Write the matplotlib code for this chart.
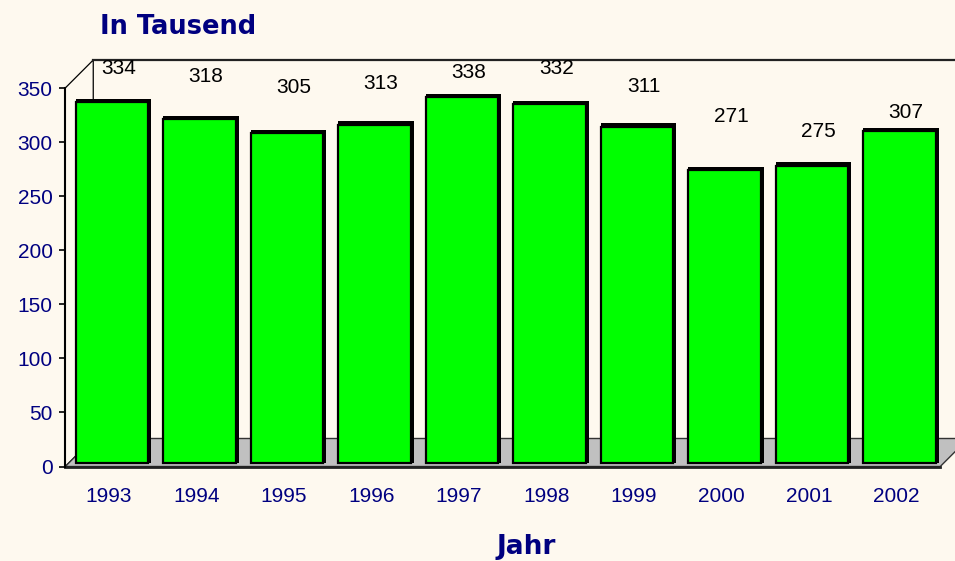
import matplotlib
matplotlib.use("Agg")
import matplotlib.pyplot as plt
from matplotlib.patches import Polygon
import numpy as np

years = ["1993", "1994", "1995", "1996", "1997", "1998", "1999", "2000", "2001", "2002"]
values = [334, 318, 305, 313, 338, 332, 311, 271, 275, 307]
label_heights = [367.6, 360.2, 350.9, 353.7, 363.9, 368.0, 351.4, 324.1, 310.2, 327.8]
yticks = [0, 50, 100, 150, 200, 250, 300, 350]
title = "In Tausend"
xlabel = "Jahr"

BG = "#FEF9EF"
GREEN = "#00FF00"
NAVY = "#000080"
FLOOR = "#C0C0C0"

W, H = 955, 561
fig = plt.figure(figsize=(W / 100, H / 100), dpi=100, facecolor=BG)
ax = fig.add_axes([65.25 / W, (H - 466.5) / H, 875 / W, 378.5 / H])
ax.set_xlim(-0.5, 9.5)
ax.set_ylim(0, 350)
ax.patch.set_alpha(0)

def px2data(dx, dy):
    p0 = ax.transData.transform((0, 0))
    d = ax.transData.inverted().transform(p0 + np.array([dx, dy]))
    return d[0], d[1]

ddx, ddy = px2data(28, 28)      # depth of the 3D box
bdx, bdy = px2data(3, 3.5)      # bar placement offset
sdx, sdy = px2data(3.2, 3.2)    # bar depth (black side)

x = np.arange(len(years))

# left wall
wall = Polygon([(-0.5, 0), (-0.5, 350), (-0.5 + ddx, 350 + ddy), (-0.5 + ddx, ddy)],
               closed=True, facecolor=BG, edgecolor="black", lw=0.9, clip_on=False, zorder=1)
ax.add_patch(wall)
# back wall top line
ax.plot([-0.5 + ddx, 12], [350 + ddy, 350 + ddy], color="#222222", lw=1.6, clip_on=False, zorder=1)
# floor
floor = Polygon([(-0.5, 0), (9.5, 0), (9.5 + ddx, ddy), (-0.5 + ddx, ddy)],
                closed=True, facecolor=FLOOR, edgecolor="#333333", lw=1.0, clip_on=False, zorder=2)
ax.add_patch(floor)
ax.plot([-0.5, 9.5], [0, 0], color="#222222", lw=2.0, clip_on=False, zorder=2.5)

width = 0.823
vals = np.array(values, dtype=float)
left = x + bdx - width / 2
ax.bar(left, vals + sdy, width + sdx, bottom=bdy, align="edge", color="black",
       zorder=3, clip_on=False)
ax.bar(left, vals, width, bottom=bdy, align="edge", color=GREEN, edgecolor="black",
       lw=1.6, zorder=4, clip_on=False)

for xi, v, ly in zip(x, values, label_heights):
    ax.text(xi + 0.11, ly, str(v), ha="center", va="center", fontsize=15,
            family="Liberation Sans", color="black", zorder=5)

for s in ["top", "right", "bottom"]:
    ax.spines[s].set_visible(False)
ax.spines["left"].set_linewidth(1.5)
ax.spines["left"].set_zorder(6)

ax.set_yticks(yticks)
ax.set_yticklabels([str(t) for t in yticks], fontsize=15, family="Liberation Sans", color=NAVY)
ax.tick_params(axis="y", length=4.5, width=1.2, pad=4.5, direction="out")
ax.set_xticks(x)
ax.set_xticklabels(years, fontsize=15, family="Liberation Sans", color=NAVY)
ax.tick_params(axis="x", length=0, pad=15)

fig.text(178 / W, 1 - 27.5 / H, title, ha="center", va="center", fontsize=18.5,
         fontweight="bold", family="DejaVu Sans", color=NAVY)
fig.text(526.5 / W, 1 - 547 / H, xlabel, ha="center", va="center", fontsize=19,
         fontweight="bold", family="DejaVu Sans", color=NAVY)

fig.savefig("out.png", dpi=100, facecolor=BG)
